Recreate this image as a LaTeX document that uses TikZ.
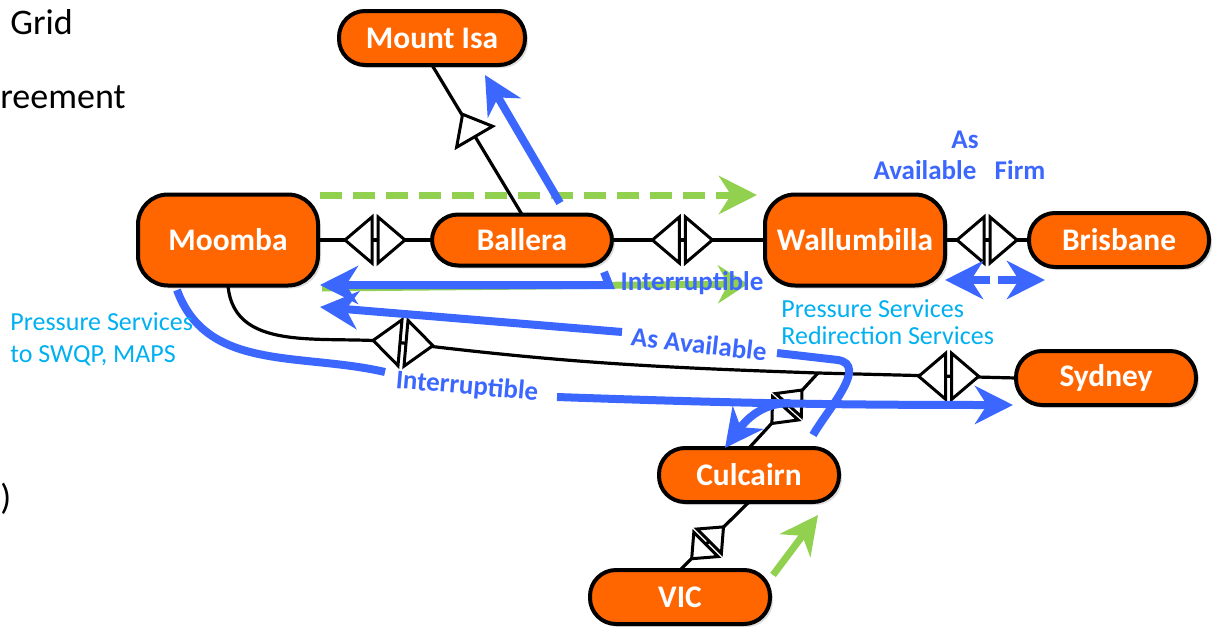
\documentclass[tikz,border=0pt]{standalone}
\usepackage{fontspec}
\setmainfont{Carlito}
\usetikzlibrary{arrows.meta,positioning,calc,shadows}
\definecolor{hubfill}{HTML}{FF6600}
\definecolor{flowblue}{HTML}{3B67FF}
\definecolor{flowgreen}{HTML}{92D050}
\definecolor{svccyan}{HTML}{00B0F0}

\begin{document}
\begin{tikzpicture}[x=0.5pt,y=0.5pt,
hub/.style={draw=black, line width=2pt, fill=hubfill, text=white,
  font=\bfseries\fontsize{15.7}{18}\selectfont, rounded corners=13pt,
  minimum width=90pt, minimum height=27pt, inner sep=0pt, outer sep=0pt,
  drop shadow={shadow xshift=1.5pt, shadow yshift=-1.5pt, opacity=0.25}},
bighub/.style={hub, minimum height=45.5pt, rounded corners=15pt},
pipe/.style={draw=black, line width=1.6pt},
flow/.style={draw=flowblue, line width=4pt, -{Stealth[length=19pt,width=19pt,inset=6pt]}},
greenflow/.style={draw=flowgreen, line width=3.5pt, -{Stealth[length=19pt,width=19pt,inset=6pt]}},
flowlabel/.style={text=flowblue, font=\bfseries\fontsize{13.5}{16}\selectfont, inner sep=0pt},
svclabel/.style={text=svccyan, font=\fontsize{13}{13.5}\selectfont, align=left, inner sep=0pt, anchor=west},
slidetext/.style={font=\fontsize{18}{20}\selectfont, inner sep=0pt},
valve/.pic={
  \draw[fill=white, line width=1.5pt, line join=miter] (-3,-23) -- (-3,23) -- (-30,0) -- cycle;
  \draw[fill=white, line width=1.5pt, line join=miter] (3,-23) -- (3,23) -- (30,0) -- cycle;
},
checkvalve/.pic={
  \draw[fill=white, line width=1.5pt, line join=miter] (3,16.5) -- (33,4.5) -- (-3,-16.5) -- cycle;
},
]
\useasboundingbox (0,0) rectangle (1221,-632);

% slide text cut at the edge
\node[slidetext, anchor=west] (grid) at (10,-22) {Grid};
\node[slidetext, anchor=west] (agree) at (0,-97) {reement};
\node[slidetext, anchor=west] (paren) at (0,-499) {)};

% hubs
\node[bighub] (moomba) at (228,-240) {Moomba};
\node[hub, minimum height=25.5pt] (ballera) [right=57pt of moomba] {Ballera};
\node[bighub] (wallumbilla) [right=76.5pt of ballera] {Wallumbilla};
\node[hub] (brisbane) [right=42pt of wallumbilla] {Brisbane};
\node[hub, minimum width=93pt] (mountisa) at (432,-38) {Mount Isa};
\node[hub] (sydney) at (1106,-378) {Sydney};
\node[hub] (culcairn) at (749,-475) {Culcairn};
\node[hub] (vic) at (680,-597) {VIC};

% pipelines
\coordinate (bend) at (403,-343);
\coordinate (junction) at (818,-373);
\draw[pipe] (moomba) -- (ballera);
\draw[pipe] (ballera) -- (wallumbilla);
\draw[pipe] (wallumbilla) -- (brisbane);
\draw[pipe] (mountisa.south) -- (ballera.north);
\draw[pipe] (moomba.south) to[out=-85,in=172] (bend) to[out=-7,in=178] (junction) -- (sydney.west);
\draw[pipe] (culcairn.north) -- (junction);
\draw[pipe] (vic.north) -- (culcairn.south);

% valves
\pic at ($(moomba.east)!0.5!(ballera.west)$) {valve};
\pic at ($(ballera.east)!0.46!(wallumbilla.west)$) {valve};
\pic at ($(wallumbilla.east)!0.5!(brisbane.west)$) {valve};
\pic[rotate=-5] at (bend) {valve};
\pic at ($(junction)!0.66!(sydney.west)$) {valve};
\pic[rotate=48, scale=0.75] at ($(culcairn.north)!0.55!(junction)$) {valve};
\pic[rotate=45, scale=0.75] at ($(vic.north)!0.4!(culcairn.south)$) {valve};
\pic at ($(mountisa.south)!0.44!(ballera.north)+(-12,0)$) {checkvalve};

% green flows
\coordinate (gd1) at (320,-195);
\coordinate (gd2) at (757,-195);
\coordinate (gi1) at (322,-288);
\coordinate (gi2) at (748,-284);
\coordinate (gv1) at (773,-575);
\coordinate (gv2) at (818,-515);
\draw[greenflow, dash pattern=on 11pt off 5.5pt] (gd1) -- (gd2);
\draw[greenflow, -{Stealth[length=15pt,width=19pt,inset=5pt]}] (gi1) -- (gi2);
\draw[greenflow] (gv1) -- (gv2);

% blue flows
\coordinate (isa1) at (560,-203);
\coordinate (isa2) at (485,-75);
\draw[flow] (isa1) -- (isa2);

\coordinate (it1) at (604,-272);
\coordinate (it2) at (609,-285);
\coordinate (it3) at (320,-285);
\draw[flow] (it1) -- (it2) -- (it3);
\node[flowlabel] (inttop) at (692,-283) {Interruptible};

\coordinate (asa1) at (813,-435);
\coordinate (asaturn) at (838,-360);
\coordinate (asa2) at (777,-353);
\coordinate (asa3) at (622,-332);
\coordinate (asa4) at (320,-307);
\draw[flow, -] (asa1) to[out=60,in=-10] (asaturn) -- (asa2);
\draw[flow] (asa3) -- (asa4);
\node[flowlabel, rotate=-6.5] (asavail) at (699,-344) {As Available};

\coordinate (il1) at (177,-290);
\coordinate (il2) at (385,-372);
\coordinate (il3) at (557,-397);
\coordinate (il4) at (1013,-405);
\coordinate (ilsplit) at (790,-403);
\coordinate (ilculc) at (725,-448);
\draw[flow, -] (il1) to[out=-70,in=167] (il2);
\draw[flow] (il3) to[out=-2,in=180] (il4);
\draw[flow] (ilsplit) to[out=180,in=53] (ilculc);
\node[flowlabel, rotate=-5] (intlow) at (467,-387) {Interruptible};

\coordinate (wb1) at (990,-280);
\coordinate (wb2) at (945,-280);
\coordinate (wb3) at (998,-280);
\coordinate (wb4) at (1045,-280);
\draw[flow] (wb1) -- (wb2);
\draw[flow] (wb3) -- (wb4);

% labels
\node[flowlabel] (as) at (965,-140) {As};
\node[flowlabel] (avail) at (925,-170) {Available};
\node[flowlabel] (firm) at (1020,-170) {Firm};
\node[svclabel] (svcright) at (781,-322) {Pressure Services\\Redirection Services};
\node[svclabel, font=\fontsize{13}{15.8}\selectfont] (svcleft) at (10,-339) {Pressure Services\\to SWQP, MAPS};

\end{tikzpicture}
\end{document}
